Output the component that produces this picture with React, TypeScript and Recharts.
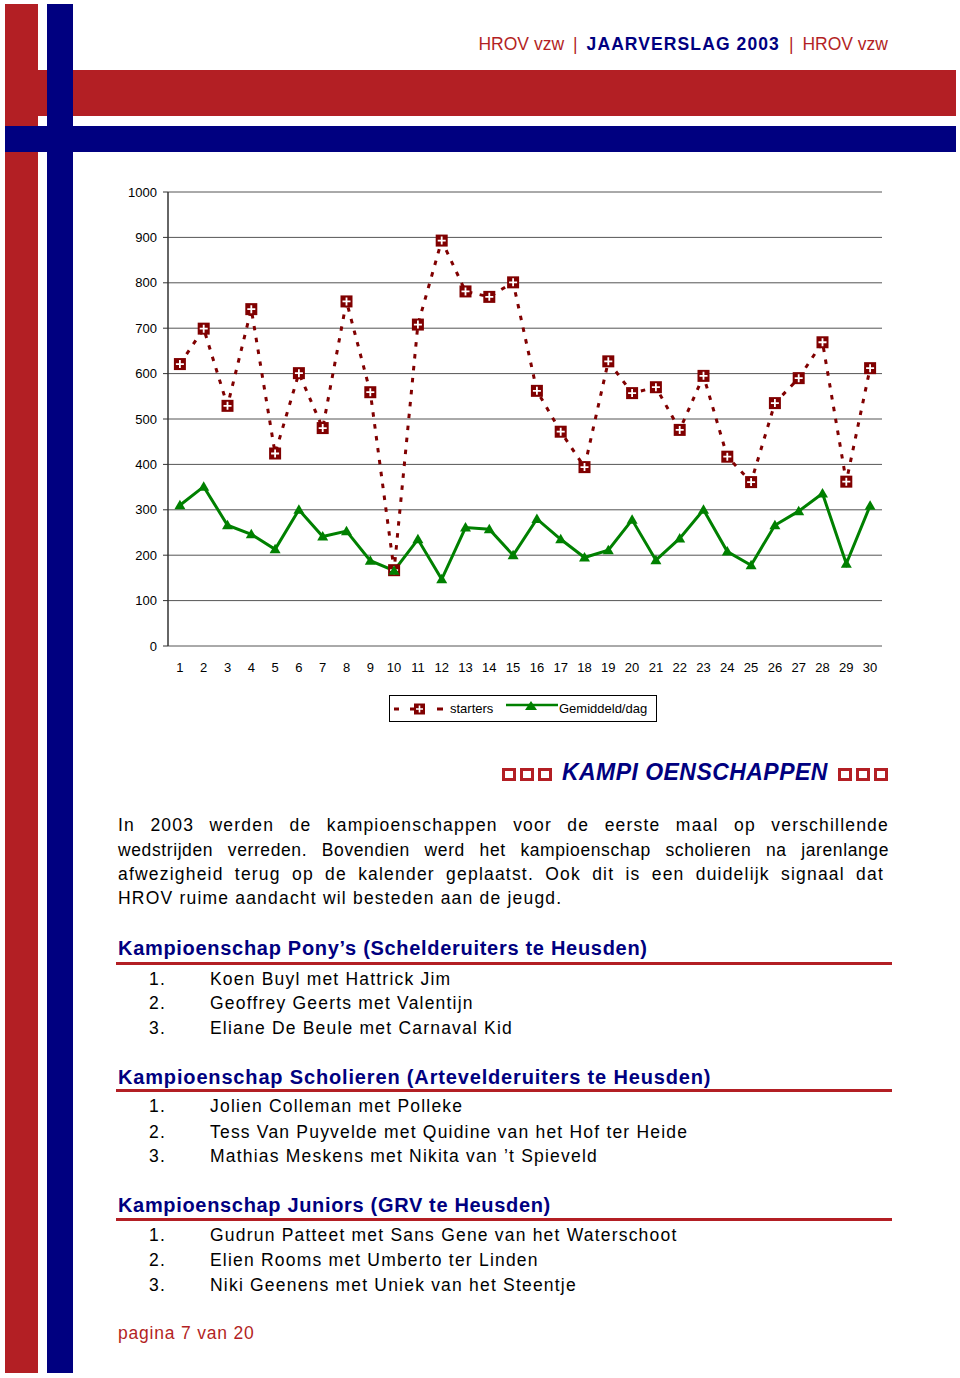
import React from 'react'
import { LineChart, Line, XAxis, YAxis, CartesianGrid, Legend } from 'recharts'

const days = [1, 2, 3, 4, 5, 6, 7, 8, 9, 10, 11, 12, 13, 14, 15, 16, 17, 18, 19, 20, 21, 22, 23, 24, 25, 26, 27, 28, 29, 30]
const starters = [621, 699, 529, 742, 424, 601, 480, 759, 559, 167, 708, 893, 781, 769, 801, 562, 472, 394, 627, 557, 570, 476, 595, 417, 361, 535, 590, 669, 362, 612]
const gemiddeld = [310, 351, 266, 246, 213, 300, 241, 253, 188, 166, 235, 147, 261, 257, 200, 280, 235, 195, 211, 278, 189, 237, 300, 208, 178, 266, 297, 336, 181, 309]
const yTicks = [0, 100, 200, 300, 400, 500, 600, 700, 800, 900, 1000]
const seriesNames = ['starters', 'Gemiddeld/dag']

const data = days.map((day, i) => ({ day, starters: starters[i], gem: gemiddeld[i] }))
const dayEdges = [...days.map((d) => d - 0.5), days[days.length - 1] + 0.5]

const RED = '#b31f24'
const NAVY = '#000080'
const DARKRED = '#800000'
const GREEN = '#008000'
const FONT = "'Liberation Sans', Arial, Helvetica, sans-serif"

const PlusSquare = (props: any) => {
  const { cx, cy, key } = props
  if (cx == null || cy == null) return <g key={key} />
  return (
    <g key={key}>
      <rect x={cx - 6} y={cy - 6} width={12} height={12} fill={DARKRED} />
      <path d={`M${cx - 4},${cy}H${cx + 4}M${cx},${cy - 4}V${cy + 4}`} stroke="#fff" strokeWidth={1.8} />
    </g>
  )
}

const Tri = (props: any) => {
  const { cx, cy, key } = props
  if (cx == null || cy == null) return <g key={key} />
  return <path key={key} d={`M${cx},${cy - 5.5}L${cx + 5.5},${cy + 4}L${cx - 5.5},${cy + 4}Z`} fill={GREEN} />
}

const LegendBox = () => (
  <div
    style={{
      position: 'relative',
      width: 268,
      height: 27,
      boxSizing: 'border-box',
      border: '1px solid #000',
      background: '#fff',
      fontFamily: FONT,
      fontSize: 13,
      color: '#000',
    }}
  >
    <svg width={52} height={14} style={{ position: 'absolute', left: 3, top: 6 }}>
      <path d="M1,7H6M17,7H23M44,7H50" stroke={DARKRED} strokeWidth={3} />
      <rect x={21} y={1.5} width={11} height={11} fill={DARKRED} />
      <path d="M23,7H30M26.5,3.5V10.5" stroke="#fff" strokeWidth={1.6} />
    </svg>
    <span style={{ position: 'absolute', left: 60, top: 5 }}>{seriesNames[0]}</span>
    <svg width={54} height={14} style={{ position: 'absolute', left: 115, top: 4 }}>
      <path d="M1,5H53" stroke={GREEN} strokeWidth={2.5} />
      <path d="M26,1L32,10L20,10Z" fill={GREEN} />
    </svg>
    <span style={{ position: 'absolute', left: 169, top: 5 }}>{seriesNames[1]}</span>
  </div>
)

const bodyText: React.CSSProperties = {
  position: 'absolute',
  fontFamily: FONT,
  fontSize: 17.5,
  lineHeight: '17.5px',
  letterSpacing: 1.2,
  color: '#000',
  whiteSpace: 'nowrap',
}

const headText: React.CSSProperties = {
  position: 'absolute',
  left: 118,
  fontFamily: FONT,
  fontSize: 20,
  lineHeight: '20px',
  fontWeight: 'bold',
  letterSpacing: 0.7,
  color: NAVY,
  whiteSpace: 'nowrap',
}

const justLine: React.CSSProperties = {
  position: 'absolute',
  left: 118,
  width: 771,
  fontFamily: FONT,
  fontSize: 17.5,
  lineHeight: '17.5px',
  letterSpacing: 1.2,
  textAlign: 'justify',
  textAlignLast: 'justify' as any,
  color: '#000',
}

const Rule = ({ top }: { top: number }) => (
  <div style={{ position: 'absolute', left: 116, top, width: 776, height: 3, background: RED }} />
)

const Squares = ({ left }: { left: number }) => (
  <>
    {[0, 1, 2].map((i) => (
      <div
        key={i}
        style={{
          position: 'absolute',
          left: left + i * 18,
          top: 768,
          width: 14,
          height: 13,
          boxSizing: 'border-box',
          border: `3px solid ${RED}`,
        }}
      />
    ))}
  </>
)

const Item = ({ top, n, text }: { top: number; n: string; text: string }) => (
  <>
    <div style={{ ...bodyText, left: 149, top }}>{n}</div>
    <div style={{ ...bodyText, left: 210, top }}>{text}</div>
  </>
)

const Sep = () => <span style={{ margin: '0 9px', fontWeight: 300 }}>|</span>

export default function App() {
  return (
    <div
      style={{
        position: 'absolute',
        left: 0,
        top: 0,
        width: 960,
        height: 1378,
        background: '#fff',
        overflow: 'hidden',
        fontFamily: FONT,
      }}
    >
      {/* page frame */}
      <div style={{ position: 'absolute', left: 5, top: 4, width: 33, height: 1369, background: RED }} />
      <div style={{ position: 'absolute', left: 38, top: 70, width: 918, height: 46, background: RED }} />
      <div style={{ position: 'absolute', left: 47, top: 4, width: 26, height: 1369, background: NAVY }} />
      <div style={{ position: 'absolute', left: 5, top: 126, width: 951, height: 26, background: NAVY }} />

      {/* header */}
      <div
        style={{
          position: 'absolute',
          right: 72,
          top: 36,
          fontSize: 17.5,
          lineHeight: '17.5px',
          whiteSpace: 'nowrap',
          color: RED,
        }}
      >
        <span>HROV vzw</span>
        <Sep />
        <span style={{ color: NAVY, fontWeight: 'bold', letterSpacing: 1.1 }}>JAARVERSLAG 2003</span>
        <Sep />
        <span>HROV vzw</span>
      </div>

      {/* chart */}
      <div style={{ position: 'absolute', left: 100, top: 180 }}>
        <LineChart
          width={800}
          height={545}
          data={data}
          margin={{ top: 12, right: 18, bottom: 22, left: 0 }}
          style={{ fontFamily: FONT }}
        >
          <CartesianGrid horizontal vertical={false} stroke="#555" />
          <XAxis
            xAxisId="edge"
            dataKey="day"
            type="number"
            domain={[0.5, 30.5]}
            ticks={dayEdges}
            interval={0}
            tick={false}
            height={0}
            tickSize={5}
            axisLine={{ stroke: '#333', strokeWidth: 1.5 }}
            tickLine={{ stroke: '#333' }}
          />
          <XAxis
            dataKey="day"
            type="number"
            domain={[0.5, 30.5]}
            ticks={days}
            interval={0}
            height={30}
            axisLine={false}
            tickLine={false}
            tickSize={0}
            tickMargin={17}
            tick={{ fontSize: 13, fill: '#000', fontFamily: FONT }}
          />
          <YAxis
            domain={[0, 1000]}
            ticks={yTicks}
            interval={0}
            width={68}
            tickSize={5}
            tickMargin={6}
            axisLine={{ stroke: '#333', strokeWidth: 1.5 }}
            tickLine={{ stroke: '#333' }}
            tick={{ fontSize: 13, fill: '#000', fontFamily: FONT }}
          />
          <Line
            dataKey="starters"
            name={seriesNames[0]}
            stroke={DARKRED}
            strokeWidth={3}
            strokeDasharray="4.5 7.5"
            dot={(p: any) => <PlusSquare {...p} />}
            activeDot={false}
            isAnimationActive={false}
          />
          <Line
            dataKey="gem"
            name={seriesNames[1]}
            stroke={GREEN}
            strokeWidth={3}
            dot={(p: any) => <Tri {...p} />}
            activeDot={false}
            isAnimationActive={false}
          />
          <Legend
            verticalAlign="bottom"
            wrapperStyle={{ left: 289, top: 515, width: 268, height: 27 }}
            content={() => <LegendBox />}
          />
        </LineChart>
      </div>

      {/* KAMPIOENSCHAPPEN */}
      <Squares left={502} />
      <div
        style={{
          position: 'absolute',
          left: 562,
          top: 761,
          fontSize: 23,
          lineHeight: '23px',
          fontWeight: 'bold',
          fontStyle: 'italic',
          letterSpacing: 0.45,
          color: NAVY,
          whiteSpace: 'nowrap',
        }}
      >
        KAMPI OENSCHAPPEN
      </div>
      <Squares left={838} />

      {/* paragraph */}
      <div style={{ ...justLine, top: 817 }}>In 2003 werden de kampioenschappen voor de eerste maal op verschillende</div>
      <div style={{ ...justLine, top: 842, letterSpacing: 0.6 }}>
        wedstrijden verreden.  Bovendien werd het kampioenschap scholieren na jarenlange
      </div>
      <div style={{ ...justLine, top: 866, width: 766 }}>
        afwezigheid terug op de kalender geplaatst.  Ook dit is een duidelijk signaal dat
      </div>
      <div style={{ ...bodyText, left: 118, top: 890 }}>HROV ruime aandacht wil besteden aan de jeugd.</div>

      {/* Pony's */}
      <div style={{ ...headText, top: 938, letterSpacing: 0.7 }}>Kampioenschap Pony’s (Schelderuiters te Heusden)</div>
      <Rule top={962} />
      <Item top={971} n="1." text="Koen Buyl met Hattrick Jim" />
      <Item top={995} n="2." text="Geoffrey Geerts met Valentijn" />
      <Item top={1020} n="3." text="Eliane De Beule met Carnaval Kid" />

      {/* Scholieren */}
      <div style={{ ...headText, top: 1067, letterSpacing: 0.84 }}>Kampioenschap Scholieren (Artevelderuiters te Heusden)</div>
      <Rule top={1089} />
      <Item top={1098} n="1." text="Jolien Colleman met Polleke" />
      <Item top={1124} n="2." text="Tess Van Puyvelde met Quidine van het Hof ter Heide" />
      <Item top={1148} n="3." text="Mathias Meskens met Nikita van ’t Spieveld" />

      {/* Juniors */}
      <div style={{ ...headText, top: 1195, letterSpacing: 0.67 }}>Kampioenschap Juniors (GRV te Heusden)</div>
      <Rule top={1218} />
      <Item top={1227} n="1." text="Gudrun Patteet met Sans Gene van het Waterschoot" />
      <Item top={1252} n="2." text="Elien Rooms met Umberto ter Linden" />
      <Item top={1277} n="3." text="Niki Geenens met Uniek van het Steentje" />

      {/* footer */}
      <div style={{ ...bodyText, left: 118, top: 1325, color: RED, letterSpacing: 0.8 }}>pagina 7 van 20</div>
    </div>
  )
}
